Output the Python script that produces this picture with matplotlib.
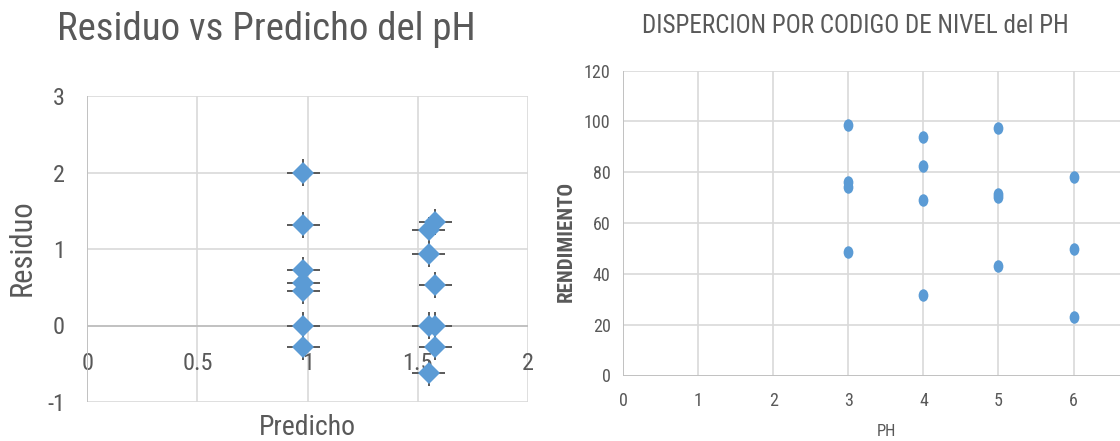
import matplotlib
matplotlib.use("Agg")
import matplotlib.pyplot as plt
from matplotlib import font_manager as fm
from matplotlib.font_manager import FontProperties
from matplotlib.textpath import TextPath
from matplotlib.path import Path
from matplotlib.transforms import Affine2D

# Residuals vs predicted pH
predicho = [0.98, 0.98, 0.98, 0.98, 0.98, 0.98, 0.98,
            1.58, 1.55, 1.55, 1.58, 1.55, 1.58, 1.58, 1.55]
residuo = [2.0, 1.31, 0.72, 0.55, 0.45, 0.0, -0.28,
           1.35, 1.25, 0.93, 0.53, 0.0, 0.0, -0.28, -0.62]
err_x = 0.075
err_y = 0.17
ticks_pred = [0, 0.5, 1, 1.5, 2]
labels_pred = ["0", "0.5", "1", "1.5", "2"]
ticks_res = [-1, 0, 1, 2, 3]
labels_res = ["-1", "0", "1", "2", "3"]

# Yield by pH level code
nivel_ph = [3, 3, 3, 3, 4, 4, 4, 4, 5, 5, 5, 5, 6, 6, 6]
rendimiento = [98.6, 76.3, 74.1, 48.5, 94.0, 82.6, 69.2, 31.7,
               97.4, 71.5, 70.2, 43.0, 78.1, 49.7, 22.9]
ticks_ph = [0, 1, 2, 3, 4, 5, 6]
ticks_rend = [0, 20, 40, 60, 80, 100, 120]

AZUL = '#5B9BD5'
TEXTO = '#595959'
REJILLA = '#D9D9D9'
EJE = '#BFBFBF'

W, H, DPI = 1120, 441, 100

# ---------- pick the narrowest installed sans family ----------
BASES = ('Liberation Sans Narrow', 'Liberation Sans', 'DejaVu Sans', 'Roboto',
         'Open Sans', 'Lato', 'Inter', 'Noto Sans')
MUESTRA = "DISPERCION POR CODIGO DE NIVEL del PH"


def ancho(prop, s):
    return TextPath((0, 0), s, size=100, prop=prop).get_extents().width


mejor = None
for f in fm.fontManager.ttflist:
    if f.style != 'normal' or f.weight not in (400, 'normal', 'regular'):
        continue
    ok = False
    for b in BASES:
        if f.name == b or (f.name.startswith(b + ' ') and
                           ('Narrow' in f.name or 'Condensed' in f.name)):
            ok = True
    if not ok or 'Mono' in f.name:
        continue
    try:
        w = ancho(FontProperties(fname=f.fname), MUESTRA)
    except Exception:
        continue
    if w > 0 and (mejor is None or w < mejor[0]):
        mejor = (w, f.name, f.stretch)

if mejor is None:
    FAMILIA, ESTIRA = 'DejaVu Sans', 'normal'
else:
    FAMILIA, ESTIRA = mejor[1], mejor[2]

plt.rcParams['font.family'] = [FAMILIA, 'DejaVu Sans']
plt.rcParams['font.stretch'] = ESTIRA
plt.rcParams['axes.unicode_minus'] = False

PROP = FontProperties(family=FAMILIA, stretch=ESTIRA)
PROP_B = FontProperties(family=FAMILIA, stretch=ESTIRA, weight='bold')


def talla(s, ancho_px, maximo, prop=PROP):
    """Font size (pt) so that s spans ancho_px pixels, capped at maximo."""
    pt = ancho_px * 72 / DPI * 100 / ancho(prop, s)
    return min(maximo, pt)


fig = plt.figure(figsize=(W / DPI, H / DPI), dpi=DPI)


def px(x0, y_top, x1, y_bot):
    return [x0 / W, 1 - y_bot / H, (x1 - x0) / W, (y_bot - y_top) / H]


# ---------- left panel ----------
t_ticks1 = talla("-1", 24, 17.5)
ax1 = fig.add_axes(px(87.3, 96, 528, 402))
ax1.set_xlim(0, 2)
ax1.set_ylim(-1, 3)
ax1.set_axisbelow(True)
for s in ax1.spines.values():
    s.set_visible(False)
ax1.spines['bottom'].set_position(('data', 0))
ax1.set_xticks(ticks_pred)
ax1.set_xticklabels(labels_pred)
ax1.set_yticks(ticks_res)
ax1.set_yticklabels(labels_res)
ax1.tick_params(axis='x', length=0, pad=19, labelsize=t_ticks1, labelcolor=TEXTO)
ax1.tick_params(axis='y', length=0, pad=16, labelsize=t_ticks1, labelcolor=TEXTO)
ax1.grid(True, color=REJILLA, lw=1.2)
ax1.axhline(0, color=EJE, lw=1.3, zorder=1)
ax1.axvline(0, color=EJE, lw=1.3, zorder=1)
ax1.errorbar(predicho, residuo, xerr=err_x, yerr=err_y, fmt='D',
             color=AZUL, markersize=11, markeredgewidth=0,
             ecolor=TEXTO, elinewidth=1.4, capsize=4.5, capthick=1.4,
             zorder=3, clip_on=False)

titulo1 = "Residuo vs Predicho del pH"
fig.text(266.5 / W, 1 - 40 / H, titulo1, ha='center', va='baseline',
         fontsize=talla(titulo1, 417, 28), color=TEXTO)
fig.text(22 / W, 1 - 248 / H, "Residuo", rotation=90, ha='center', va='center',
         fontsize=talla("Residuo", 103, 22), color=TEXTO)
fig.text(307.5 / W, 1 - 435 / H, "Predicho", ha='center', va='baseline',
         fontsize=talla("Predicho", 97, 20), color=TEXTO)

# ---------- right panel ----------
t_ticks2 = talla("120", 26, 13)
ax2 = fig.add_axes(px(623, 70.5, 623 + 7 * 75.1, 375.5))
ax2.set_xlim(0, 7)
ax2.set_ylim(0, 120)
ax2.set_axisbelow(True)
for s in ax2.spines.values():
    s.set_visible(False)
ax2.set_xticks(ticks_ph)
ax2.set_yticks(ticks_rend)
ax2.tick_params(axis='x', length=0, pad=12, labelsize=t_ticks2, labelcolor=TEXTO)
ax2.tick_params(axis='y', length=0, pad=9, labelsize=t_ticks2, labelcolor=TEXTO)
ax2.grid(True, color=REJILLA, lw=1.2)
ax2.axvline(7, color=REJILLA, lw=1.2, zorder=0)
ax2.axhline(0, color=EJE, lw=1.3, zorder=1)
ax2.axvline(0, color=EJE, lw=1.3, zorder=1)

elipse = Path.unit_circle().transformed(Affine2D().scale(0.78, 1.0))
ax2.plot(nivel_ph, rendimiento, linestyle='none', marker=elipse,
         markersize=9, color=AZUL, markeredgewidth=0, zorder=3)

titulo2 = "DISPERCION POR CODIGO DE NIVEL del PH"
fig.text(855 / W, 1 - 33 / H, titulo2, ha='center', va='baseline',
         fontsize=talla(titulo2, 424, 21), color=TEXTO)
fig.text(566 / W, 1 - 241 / H, "RENDIMIENTO", rotation=90,
         ha='center', va='center',
         fontsize=talla("RENDIMIENTO", 132, 15, PROP_B),
         fontweight='bold', color=TEXTO)
fig.text(886.7 / W, 1 - 436 / H, "PH", ha='center', va='baseline',
         fontsize=talla("PH", 20, 12), color=TEXTO)

fig.savefig("out.png", dpi=DPI)
